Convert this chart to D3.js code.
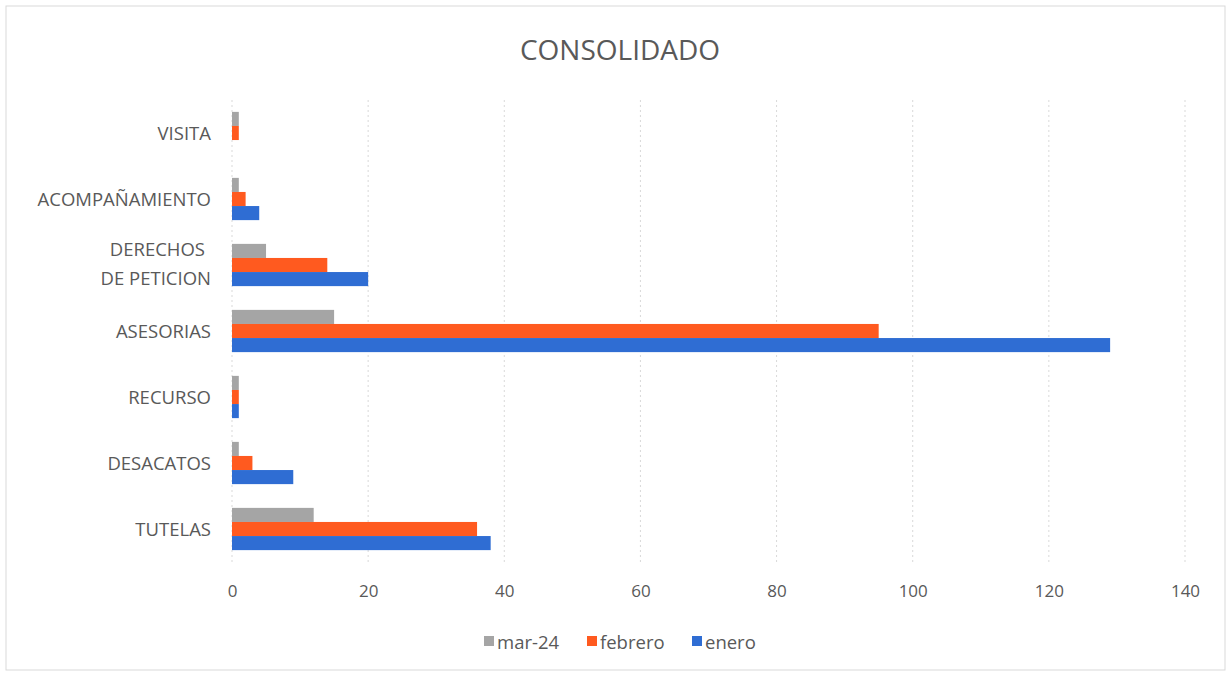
<!DOCTYPE html>
<html><head><meta charset="utf-8">
<script src="https://cdn.jsdelivr.net/npm/d3@7"></script>
<style>body{margin:0;background:#fff;font-family:"Open Sans",Lato,sans-serif;}</style>
</head><body><svg id="c" width="1231" height="677"></svg>
<script>
const categories = ["VISITA","ACOMPAÑAMIENTO","DERECHOS DE PETICION","ASESORIAS","RECURSO","DESACATOS","TUTELAS"];
const seriesNames = ["mar-24","febrero","enero"];
const mar24 = [1,1,5,15,1,1,12];
const febrero = [1,2,14,95,1,3,36];
const enero = [0,4,20,129,1,9,38];
const xTicks = [0,20,40,60,80,100,120,140];
const colors = ["#A5A5A5","#FF5A1F","#2F6DD3"];
const seriesValues = [mar24, febrero, enero];

const svg = d3.select("#c");
svg.append("rect").attr("x",6).attr("y",6).attr("width",1219).attr("height",664)
  .attr("fill","#fff").attr("stroke","#d9d9d9");

const x = d3.scaleLinear().domain([0,140]).range([232,1185]);
const y = d3.scaleBand().domain(categories).range([100,562]).paddingInner(0.36).paddingOuter(0.18);
const yi = d3.scaleBand().domain(seriesNames).range([0,y.bandwidth()]);

// gridlines
svg.append("g").selectAll("line").data(xTicks).join("line")
  .attr("x1",d=>x(d)).attr("x2",d=>x(d)).attr("y1",100).attr("y2",564)
  .attr("stroke","#d9d9d9").attr("stroke-dasharray","2,3");

// bars
seriesNames.forEach((s,si)=>{
  svg.append("g").selectAll("rect").data(categories).join("rect")
    .attr("x",x(0)).attr("y",(c)=>y(c)+yi(s))
    .attr("width",(c,i)=>x(seriesValues[si][i])-x(0))
    .attr("height",yi.bandwidth()).attr("fill",colors[si]);
});

// x axis labels
const xa = svg.append("g").attr("transform","translate(0,564)")
  .call(d3.axisBottom(x).tickValues(xTicks).tickSize(0).tickPadding(21));
xa.select(".domain").remove();
xa.selectAll("text").attr("font-size",17).attr("fill","#595959").attr("font-family","'Open Sans',sans-serif");

// y labels
const yl = svg.append("g");
categories.forEach(c=>{
  const cy = y(c)+y.bandwidth()/2;
  const t = yl.append("text").attr("x",211).attr("text-anchor","end")
    .attr("font-size",18.5).attr("fill","#595959");
  if(c==="DERECHOS DE PETICION"){
    t.append("tspan").attr("x",205).attr("y",cy-9).text("DERECHOS");
    t.append("tspan").attr("x",211).attr("y",cy+20).text("DE PETICION");
  } else {
    t.attr("y",cy+7).text(c);
  }
});

// title
svg.append("text").attr("x",620).attr("y",60).attr("text-anchor","middle")
  .attr("font-size",28).attr("fill","#595959").text("CONSOLIDADO");

// legend
const lg = svg.append("g");
const legX = [484,587,692];
seriesNames.forEach((s,i)=>{
  lg.append("rect").attr("x",legX[i]).attr("y",636).attr("width",10).attr("height",10).attr("fill",colors[i]);
  lg.append("text").attr("x",legX[i]+13).attr("y",649).attr("font-size",18.5).attr("fill","#595959").text(s);
});
</script></body></html>
